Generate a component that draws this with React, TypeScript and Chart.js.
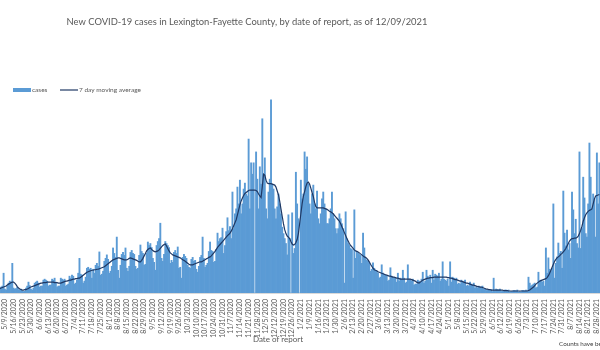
import React, { useEffect, useRef } from 'react';
import { Chart, registerables } from 'chart.js';

Chart.register(...registerables);

const TITLE = 'New COVID-19 cases in Lexington-Fayette County, by date of report, as of 12/09/2021';
const AXIS_TITLE = 'Date of report';
const FOOTNOTE = 'Counts have been adjusted';
const LEGEND_BAR = 'cases';
const LEGEND_LINE = '7 day moving average';

// first day of the visible series (Monday 5/4/2020); one value per day
const START = { year: 2020, month: 5, day: 4 };
const TICK_EVERY = 7; // weekly tick labels
const TICK_OFFSET = 5; // first labelled day: 5/9/2020

// daily new cases, one row per week (Mon..Sun)
const cases = [
  8, 10, 12, 14, 40, 8, 6,
  14, 20, 24, 22, 60, 10, 8,
  9, 12, 7, 6, 8, 4, 3,
  4, 10, 14, 22, 15, 8, 6,
  10, 20, 22, 24, 20, 12, 14,
  14, 26, 28, 26, 24, 14, 16,
  16, 28, 26, 30, 22, 12, 14,
  14, 30, 28, 26, 28, 14, 16,
  18, 34, 30, 36, 34, 18, 20,
  26, 40, 70, 38, 36, 20, 24,
  32, 50, 52, 48, 50, 30, 48,
  40, 56, 60, 54, 83, 36, 38,
  44, 64, 70, 77, 68, 40, 44,
  54, 91, 80, 72, 113, 46, 30,
  56, 78, 82, 76, 91, 50, 44,
  54, 82, 86, 80, 78, 54, 48,
  50, 76, 97, 84, 80, 56, 58,
  80, 103, 96, 100, 92, 70, 62,
  46, 96, 104, 110, 141, 70, 64,
  78, 104, 100, 96, 92, 60, 66,
  62, 82, 86, 80, 93, 50, 52,
  30, 72, 78, 74, 70, 56, 52,
  50, 68, 72, 64, 66, 48, 42,
  54, 72, 76, 113, 70, 52, 56,
  60, 84, 103, 86, 84, 62, 64,
  88, 121, 104, 110, 112, 131, 80,
  96, 124, 152, 126, 134, 110, 204,
  130, 160, 170, 214, 180, 228, 160,
  180, 210, 222, 200, 196, 311, 170,
  263, 240, 263, 0, 285, 230, 170,
  255, 220, 352, 240, 273, 170, 150,
  204, 230, 390, 220, 210, 170, 150,
  174, 200, 180, 160, 133, 120, 110,
  100, 77, 158, 110, 0, 162, 80,
  90, 244, 180, 150, 0, 228, 190,
  200, 285, 250, 275, 220, 180, 160,
  200, 218, 180, 170, 206, 150, 140,
  160, 190, 204, 180, 170, 140, 140,
  150, 170, 204, 160, 150, 130, 120,
  130, 160, 150, 140, 130, 20, 164,
  110, 100, 96, 90, 88, 30, 168,
  70, 84, 80, 78, 76, 60, 121,
  91, 70, 66, 64, 60, 44, 48,
  61, 50, 46, 44, 40, 30, 32,
  57, 40, 38, 36, 34, 24, 26,
  51, 34, 32, 30, 30, 22, 40,
  24, 30, 28, 46, 30, 20, 22,
  57, 28, 26, 24, 28, 16, 18,
  18, 26, 24, 22, 28, 42, 20,
  24, 46, 34, 30, 36, 20, 46,
  26, 38, 36, 34, 40, 24, 28,
  63, 28, 26, 24, 28, 14, 63,
  22, 32, 30, 28, 30, 18, 20,
  18, 26, 24, 22, 26, 14, 16,
  14, 22, 18, 16, 20, 10, 12,
  10, 14, 12, 12, 14, 8, 8,
  5, 7, 6, 6, 7, 3, 30,
  4, 8, 7, 6, 8, 3, 4,
  3, 6, 6, 5, 6, 2, 3,
  3, 5, 5, 4, 6, 2, 3,
  2, 5, 5, 4, 6, 3, 32,
  20, 14, 16, 18, 20, 10, 12,
  42, 24, 26, 22, 24, 14, 91,
  40, 71, 48, 44, 50, 180, 30,
  60, 73, 101, 80, 84, 50, 206,
  121, 95, 127, 87, 100, 70, 204,
  168, 120, 149, 100, 91, 285, 90,
  130, 234, 192, 120, 113, 180, 303,
  234, 170, 200, 190, 113, 283, 180,
  263,
];

// 7 day moving average
const movingAvg = [
  9, 9, 10, 11, 12, 13, 14,
  16, 18, 19, 21, 22, 22, 20,
  17, 13, 10, 8, 7, 6, 6,
  7, 7, 8, 9, 11, 12, 13,
  14, 15, 16, 17, 18, 19, 20,
  20, 21, 21, 21, 22, 22, 22,
  22, 22, 22, 21, 21, 21, 20,
  20, 20, 21, 22, 23, 24, 24,
  25, 26, 26, 27, 28, 28, 29,
  29, 30, 30, 32, 34, 36, 38,
  40, 42, 43, 44, 45, 46, 46,
  47, 47, 48, 48, 49, 50, 51,
  52, 53, 55, 57, 59, 61, 63,
  65, 67, 68, 69, 70, 71, 71,
  70, 69, 68, 67, 67, 67, 68,
  70, 71, 70, 69, 68, 67, 66,
  64, 63, 63, 66, 70, 75, 80,
  85, 88, 90, 91, 88, 86, 84,
  83, 84, 85, 87, 90, 93, 96,
  98, 99, 95, 90, 85, 81, 79,
  77, 76, 75, 74, 73, 72, 71,
  69, 67, 66, 64, 62, 60, 58,
  57, 57, 57, 58, 59, 60, 61,
  62, 63, 63, 64, 66, 67, 69,
  70, 72, 73, 75, 78, 81, 84,
  88, 92, 95, 98, 101, 104, 107,
  110, 113, 116, 118, 121, 125, 130,
  136, 142, 148, 158, 168, 178, 186,
  192, 197, 201, 203, 205, 207, 208,
  208, 208, 208, 208, 207, 205, 200,
  196, 193, 215, 240, 238, 228, 222,
  221, 221, 221, 220, 219, 218, 214,
  206, 198, 185, 170, 155, 140, 128,
  120, 115, 113, 110, 104, 99, 97,
  98, 102, 108, 120, 140, 160, 180,
  195, 205, 215, 222, 224, 220, 212,
  203, 195, 183, 175, 172, 172, 172,
  172, 172, 172, 171, 170, 169, 167,
  165, 164, 162, 160, 157, 154, 151,
  148, 145, 140, 134, 128, 122, 116,
  110, 105, 100, 96, 93, 90, 87,
  85, 84, 83, 81, 79, 77, 75,
  73, 72, 70, 67, 63, 58, 54,
  50, 47, 46, 45, 43, 42, 41,
  40, 39, 38, 37, 36, 35, 34,
  34, 33, 32, 32, 31, 30, 30,
  29, 28, 28, 28, 28, 28, 28,
  28, 28, 28, 27, 26, 25, 24,
  22, 21, 20, 22, 24, 26, 27,
  28, 29, 30, 30, 31, 31, 31,
  32, 32, 32, 32, 32, 32, 32,
  32, 32, 32, 32, 31, 31, 30,
  30, 29, 28, 27, 27, 26, 25,
  24, 24, 23, 22, 21, 20, 20,
  19, 18, 17, 16, 16, 15, 14,
  13, 13, 12, 12, 11, 10, 9,
  8, 8, 7, 7, 6, 6, 6,
  6, 6, 6, 6, 6, 6, 6,
  5, 5, 5, 5, 4, 4, 4,
  4, 4, 4, 4, 4, 4, 4,
  4, 4, 4, 4, 4, 4, 5,
  6, 8, 10, 12, 15, 18, 20,
  22, 24, 25, 26, 27, 28, 29,
  31, 35, 40, 46, 52, 58, 64,
  68, 71, 73, 75, 78, 80, 83,
  86, 90, 95, 100, 105, 108, 110,
  110, 111, 111, 112, 115, 120, 127,
  135, 145, 152, 158, 162, 165, 167,
  168, 170, 180, 190, 196, 197, 198,
  199,
];

function buildDateLabels(n: number): string[] {
  const out: string[] = [];
  for (let i = 0; i < n; i++) {
    const d = new Date(START.year, START.month - 1, START.day + i);
    out.push(`${d.getMonth() + 1}/${d.getDate()}/${d.getFullYear()}`);
  }
  return out;
}

const FONT = 'Lato, "Open Sans", sans-serif';
const SHIFT = 2; // canvas sits 2px left of the page edge

const decorPlugin = {
  id: 'decor',
  afterDraw(chart: any) {
    const ctx = chart.ctx as CanvasRenderingContext2D;
    ctx.save();
    // title
    ctx.fillStyle = '#595959';
    ctx.font = `9.4px ${FONT}`;
    ctx.textAlign = 'center';
    ctx.textBaseline = 'middle';
    ctx.fillText(TITLE, 247 + SHIFT, 22);
    // legend
    ctx.fillStyle = '#5B9BD5';
    ctx.fillRect(13 + SHIFT, 88, 18, 4);
    ctx.fillStyle = '#595959';
    ctx.font = `6.5px ${FONT}`;
    ctx.textAlign = 'left';
    ctx.fillText(LEGEND_BAR, 32 + SHIFT, 90);
    ctx.strokeStyle = '#1F3864';
    ctx.lineWidth = 1.2;
    ctx.beginPath();
    ctx.moveTo(60 + SHIFT, 90);
    ctx.lineTo(78 + SHIFT, 90);
    ctx.stroke();
    ctx.fillText(LEGEND_LINE, 79 + SHIFT, 90);
    // axis title
    ctx.font = `8px ${FONT}`;
    ctx.textAlign = 'center';
    ctx.fillText(AXIS_TITLE, 278 + SHIFT, 339);
    // footnote
    ctx.font = `6.3px ${FONT}`;
    ctx.textAlign = 'left';
    ctx.fillStyle = '#404040';
    ctx.fillText(FOOTNOTE, 559 + SHIFT, 344);
    ctx.restore();
  },
};

export default function App() {
  const ref = useRef<HTMLCanvasElement | null>(null);

  useEffect(() => {
    if (!ref.current) return;
    const labels = buildDateLabels(cases.length);
    const chart = new Chart(ref.current, {
      type: 'bar',
      data: {
        labels,
        datasets: [
          {
            type: 'line',
            label: LEGEND_LINE,
            data: movingAvg,
            borderColor: '#1F3864',
            borderWidth: 1.2,
            pointRadius: 0,
            fill: false,
            tension: 0,
            order: 0,
          } as any,
          {
            type: 'bar',
            label: LEGEND_BAR,
            data: cases,
            backgroundColor: '#5B9BD5',
            barPercentage: 1,
            categoryPercentage: 1,
            order: 1,
          },
        ],
      },
      options: {
        responsive: false,
        animation: false,
        devicePixelRatio: 1,
        layout: { padding: { top: 95, left: 0, right: 0, bottom: 0 } },
        plugins: {
          legend: { display: false },
          title: { display: false },
          tooltip: { enabled: false },
        },
        scales: {
          x: {
            type: 'category',
            offset: true,
            grid: { display: false, drawTicks: false },
            border: { display: true, color: '#D9D9D9', width: 1 },
            ticks: {
              autoSkip: false,
              minRotation: 90,
              maxRotation: 90,
              padding: 6,
              color: '#595959',
              font: { family: FONT, size: 7 },
              callback: (_v: any, i: number) =>
                i % TICK_EVERY === TICK_OFFSET ? labels[i] : '',
            },
            afterFit: (scale: any) => {
              scale.height = 57;
              scale.paddingLeft = 0;
              scale.paddingRight = 0;
            },
          },
          y: { display: false, min: 0, max: 400 },
        },
      },
      plugins: [decorPlugin],
    });
    return () => chart.destroy();
  }, []);

  return (
    <div
      style={{
        position: 'fixed',
        left: 0,
        top: 0,
        width: 600,
        height: 350,
        overflow: 'hidden',
        background: '#fff',
      }}
    >
      <canvas
        ref={ref}
        width={602}
        height={350}
        style={{ position: 'absolute', left: -SHIFT, top: 0, display: 'block' }}
      />
    </div>
  );
}
